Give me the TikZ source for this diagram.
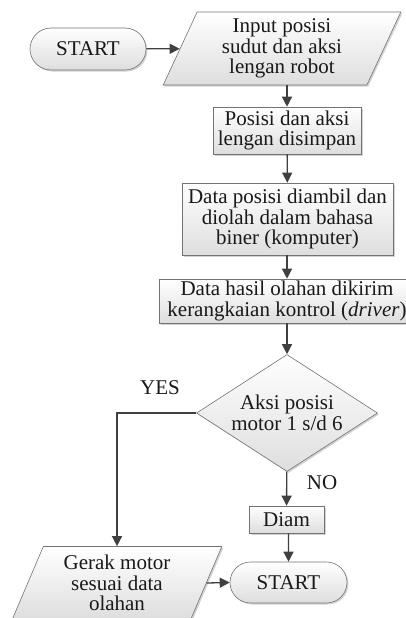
\documentclass[tikz,border=0pt]{standalone}
\usepackage{fontspec}
\setmainfont{Liberation Serif}
\usetikzlibrary{shapes.geometric,shapes.misc,shadows,arrows.meta}

\tikzset{
  flowbox/.style={draw=black!55, line width=0.6pt, top color=white, bottom color=black!13,
    drop shadow={shadow xshift=1.5pt, shadow yshift=-1.5pt, fill=black!35},
    align=center, inner sep=0pt, text=black!90, font=\fontsize{21}{20.5}\selectfont},
  terminal/.style={flowbox, rounded rectangle, minimum width=116pt, minimum height=42pt},
  process/.style={flowbox, rectangle},
  inout/.style={flowbox, trapezium, trapezium left angle=68, trapezium right angle=112,
    trapezium stretches=true},
  decision/.style={flowbox, diamond, aspect=1.55},
  flowline/.style={draw=black!75, line width=1.3pt, -{Triangle[length=10pt,width=10pt]}},
  answer/.style={text=black!90, font=\fontsize{21}{20.5}\selectfont}
}

\begin{document}
\begin{tikzpicture}[x=1pt, y=-1pt]
    % Page
    \useasboundingbox (0,0) rectangle (406,618);

    % Main column
    \node[terminal] (start) at (88,49) {START};
    \node[inout, minimum width=238pt, minimum height=73pt] (input) at (282,48.5)
      {Input posisi\\sudut dan aksi\\lengan robot};
    \node[process, minimum width=148pt, minimum height=47pt] (simpan) at (287,130.5)
      {Posisi dan aksi\\lengan disimpan};
    \node[process, minimum width=211pt, minimum height=72pt] (olah) at (287.5,219)
      {Data posisi diambil dan\\diolah dalam bahasa\\biner (komputer)};
    \node[process, minimum width=256pt, minimum height=44pt] (kirim) at (287,301)
      {Data hasil olahan dikirim\\kerangkaian kontrol (\textit{driver})};
    \node[decision, minimum width=181pt, minimum height=117pt] (aksi) at (287,413)
      {Aksi posisi\\motor 1 s/d 6};
    \node[process, minimum width=75pt, minimum height=27pt] (diam) at (286.5,519.5) {Diam};
    \node[terminal, minimum width=117pt, minimum height=41pt] (selesai) at (288.5,582.5) {START};

    % Branch
    \node[inout, minimum width=210pt, minimum height=73pt] (gerak) at (117,583)
      {Gerak motor\\sesuai data\\olahan};

    % Labels
    \node[answer] (yes) at (160,388) {YES};
    \node[answer] (no) at (322,483) {NO};

    % Connectors
    \draw[flowline] (start) -- (input);
    \draw[flowline] (simpan.north |- input.south) -- (simpan);
    \draw[flowline] (simpan) -- (olah);
    \draw[flowline] (olah.south -| kirim) -- (kirim);
    \draw[flowline] (kirim.south -| aksi) -- (aksi);
    \draw[flowline] (aksi) -- (diam);
    \draw[flowline] (diam.south -| selesai) -- (selesai);
    \draw[flowline] (aksi.west) -| (gerak.north);
    \draw[flowline] (gerak.east) -- (selesai.west);
\end{tikzpicture}
\end{document}
